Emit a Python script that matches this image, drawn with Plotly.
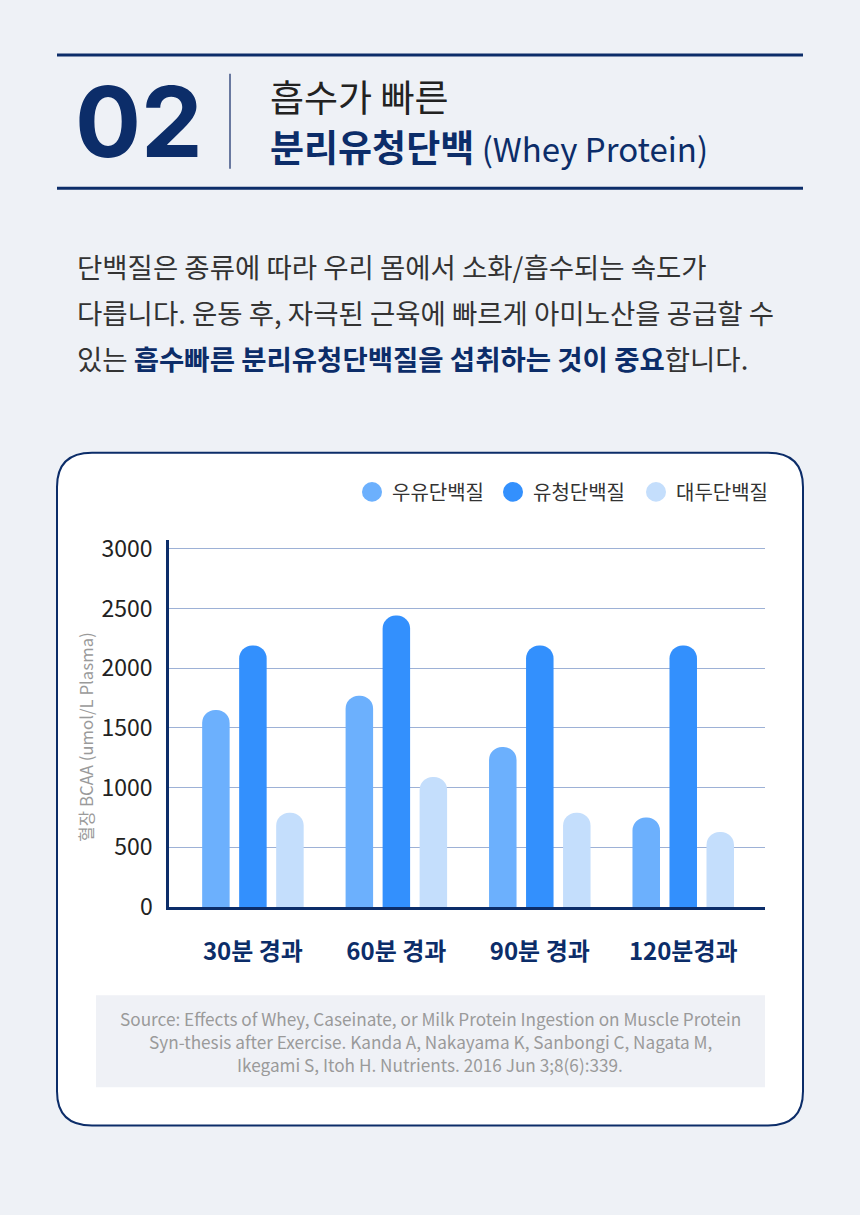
import plotly.graph_objects as go

# data
times = ["30분 경과", "60분 경과", "90분 경과", "120분경과"]
series_names = ["우유단백질", "유청단백질", "대두단백질"]
milk = [1650, 1770, 1340, 750]
whey = [2190, 2440, 2190, 2190]
soy = [790, 1090, 790, 630]
y_ticks = [0, 500, 1000, 1500, 2000, 2500, 3000]
colors = ["#6cb0fd", "#3390fd", "#c4defc"]

W, H = 860, 1215
NAVY = "#0c2d69"
KR = "Noto Sans CJK KR"


def px(x):
    return x / W


def py(y):
    return 1 - y / H


def rounded_box(x0, y0, x1, y1, r):
    rx, ry = r / W, r / H
    a, b, c, d = px(x0), py(y0), px(x1), py(y1)
    return (f"M {a+rx},{b} L {c-rx},{b} Q {c},{b} {c},{b-ry} "
            f"L {c},{d+ry} Q {c},{d} {c-rx},{d} L {a+rx},{d} "
            f"Q {a},{d} {a},{d+ry} L {a},{b-ry} Q {a},{b} {a+rx},{b} Z")


fig = go.Figure()
for name, vals, col in zip(series_names, [milk, whey, soy], colors):
    fig.add_trace(go.Bar(x=list(range(len(times))), y=vals, name=name,
                         marker=dict(color=col, line=dict(width=0)),
                         showlegend=False, hoverinfo="skip"))

shapes = [
    # header rules
    dict(type="line", xref="paper", yref="paper", x0=px(57), x1=px(803), y0=py(46), y1=py(46),
         line=dict(color=NAVY, width=3)),
    dict(type="line", xref="paper", yref="paper", x0=px(57), x1=px(803), y0=py(182), y1=py(182),
         line=dict(color=NAVY, width=3)),
    dict(type="line", xref="paper", yref="paper", x0=px(230), x1=px(230), y0=py(65), y1=py(162),
         line=dict(color="#3c5183", width=1.5)),
    # white card
    dict(type="path", xref="paper", yref="paper", path=rounded_box(57, 452, 803, 1139, 35),
         fillcolor="white", line=dict(color=NAVY, width=2), layer="below"),
    # source box
    dict(type="rect", xref="paper", yref="paper", x0=px(96), x1=px(765), y0=py(1006), y1=py(1100),
         fillcolor="#eff1f6", line=dict(width=0), layer="below"),
]

# legend circles
legend_x = [372, 513, 656]
for lx, col in zip(legend_x, colors):
    shapes.append(dict(type="circle", xref="paper", yref="paper",
                       x0=px(lx - 10), x1=px(lx + 10), y0=py(482), y1=py(502),
                       fillcolor=col, line=dict(width=0)))

annotations = [
    dict(text="<b>02</b>", x=px(73), y=py(114), xanchor="left", yanchor="middle",
         font=dict(family="Inter", size=98, color=NAVY, weight=900)),
    dict(text="흡수가 빠른", x=px(268), y=py(88), xanchor="left", yanchor="middle",
         font=dict(family=KR, size=37, color="#222222")),
    dict(text="<b>분리유청단백</b><span style='font-size:33px'> (Whey Protein)</span>", x=px(268),
         y=py(139), xanchor="left", yanchor="middle", font=dict(family=KR, size=37, color=NAVY)),
    dict(text="단백질은 종류에 따라 우리 몸에서 소화/흡수되는 속도가", x=px(75), y=py(261),
         xanchor="left", yanchor="middle", font=dict(family=KR, size=27.5, color="#333333")),
    dict(text="다릅니다. 운동 후, 자극된 근육에 빠르게 아미노산을 공급할 수", x=px(75), y=py(308),
         xanchor="left", yanchor="middle", font=dict(family=KR, size=27.5, color="#333333")),
    dict(text=f"있는 <b><span style='color:{NAVY}'>흡수빠른 분리유청단백질을 섭취하는 것이 중요</span></b>합니다.",
         x=px(75), y=py(355), xanchor="left", yanchor="middle",
         font=dict(family=KR, size=27.5, color="#333333")),
    dict(text="혈장 BCAA (umol/L Plasma)", x=px(86), y=py(742), textangle=-90,
         xanchor="center", yanchor="middle", font=dict(family=KR, size=16.8, color="#9a9a9a")),
]

for lx, name in zip(legend_x, series_names):
    annotations.append(dict(text=name, x=px(lx + 18), y=py(492), xanchor="left", yanchor="middle",
                            font=dict(family=KR, size=20, color="#333333")))

source_lines = [
    "Source: Effects of Whey, Caseinate, or Milk Protein Ingestion on Muscle Protein",
    "Syn-thesis after Exercise. Kanda A, Nakayama K, Sanbongi C, Nagata M,",
    "Ikegami S, Itoh H. Nutrients. 2016 Jun 3;8(6):339.",
]
for i, line in enumerate(source_lines):
    annotations.append(dict(text=line, x=px(430), y=py(1030 + 23.5 * i), xanchor="center",
                            yanchor="middle", font=dict(family=KR, size=17.2, color="#9a9a9a")))

for a in annotations:
    a.update(xref="paper", yref="paper", showarrow=False)

fig.update_layout(
    width=W, height=H,
    margin=dict(l=0, r=0, t=0, b=0),
    paper_bgcolor="#eef1f6",
    plot_bgcolor="rgba(0,0,0,0)",
    barmode="group", bargap=0.226, bargroupgap=0.257,
    barcornerradius="50%",
    shapes=shapes, annotations=annotations,
    xaxis=dict(domain=[px(169), px(765)], range=[-0.585, 3.57],
               tickvals=list(range(len(times))), ticktext=times,
               tickfont=dict(family=KR, size=24, color=NAVY, weight="bold"),
               showline=True, linecolor=NAVY, linewidth=3, showgrid=False,
               ticks="", ticklabelstandoff=21, zeroline=False, fixedrange=True),
    yaxis=dict(domain=[py(916), py(541)], range=[0, 3074],
               tickvals=y_ticks, tickfont=dict(family=KR, size=23, color="#222222"),
               showline=True, linecolor=NAVY, linewidth=2.5,
               showgrid=True, gridcolor="#9db1d6", gridwidth=1,
               ticks="", ticklabelstandoff=9, zeroline=False, fixedrange=True),
)

fig.write_html("out.html", post_script="document.body.style.margin='0';",
               config=dict(displayModeBar=False))
